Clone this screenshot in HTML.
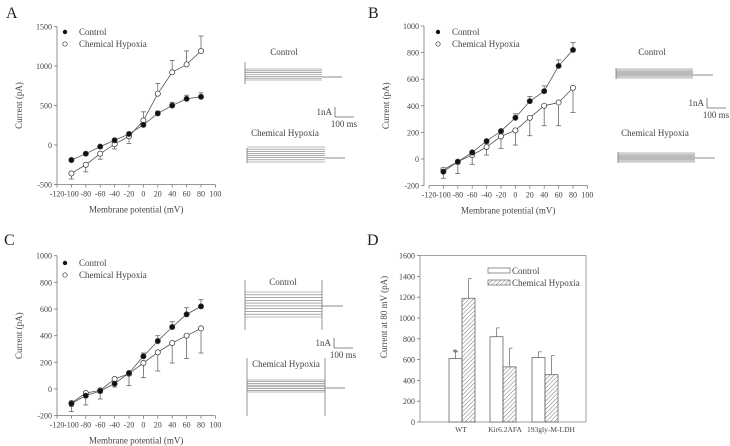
<!DOCTYPE html>
<html><head><meta charset="utf-8"><style>
body{margin:0;background:#fff;}
svg{display:block;}
svg text{fill:#444;font-family:"Liberation Serif","DejaVu Serif",serif;}
</style></head><body>
<svg id="fig" width="730" height="446" viewBox="0 0 730 446" xmlns="http://www.w3.org/2000/svg" font-family="Liberation Serif, serif">
<defs><pattern id="hatch" patternUnits="userSpaceOnUse" width="3" height="3" patternTransform="rotate(45)"><line x1="0" y1="0" x2="0" y2="3" stroke="#555" stroke-width="0.8"/></pattern></defs>
</svg>
<script>
const voltages=[-100,-80,-60,-40,-20,0,20,40,60,80];
const xTicks=[-120,-100,-80,-60,-40,-20,0,20,40,60,80,100];
const aControl=[-190,-110,-20,60,140,255,400,500,585,610];
const aControlErr=[-20,-20,-20,-20,-20,30,30,40,45,50];
const aHypoxia=[-360,-250,-110,10,110,310,650,920,1020,1190];
const aHypoxiaErr=[-70,-90,-70,-60,-90,110,130,150,170,190];
const aTicks=[-500,0,500,1000,1500];
const bControl=[-95,-20,50,135,210,310,435,510,700,820];
const bControlErr=[-50,-20,-20,-20,-20,30,35,40,45,55];
const bHypoxia=[-80,-20,30,90,170,215,310,400,425,535];
const bHypoxiaErr=[-20,-90,-70,-60,-90,-110,-135,-150,-175,-185];
const bTicks=[-200,0,200,400,600,800,1000];
const cControl=[-110,-50,-15,40,120,245,360,465,560,620];
const cControlErr=[-20,-70,-60,-25,-20,25,40,40,50,50];
const cHypoxia=[-105,-30,-10,75,115,195,275,345,400,455];
const cHypoxiaErr=[-65,-20,-20,-20,-90,-110,-140,-150,-170,-185];
const cTicks=[-200,0,200,400,600,800,1000];
const dGroups=["WT","Kir6.2AFA","193gly-M-LDH"];
const dControl=[610,820,620];
const dControlErr=[65,85,55];
const dHypoxia=[1190,530,455];
const dHypoxiaErr=[190,180,185];
const dTicks=[0,200,400,600,800,1000,1200,1400,1600];

const svg=document.getElementById('fig');
const NS='http://www.w3.org/2000/svg';
function el(tag,attrs,parent,txt){const e=document.createElementNS(NS,tag);for(const k in attrs)e.setAttribute(k,attrs[k]);if(tag==='text')e.setAttribute('font-family','Liberation Serif, serif');if(txt!==undefined)e.textContent=txt;(parent||svg).appendChild(e);return e;}

function iv(id,o){
  const g=el('g',{});
  
  
  const xs=v=>o.x0+(v+120)*0.72;
  const ys=v=>o.yZero-(v*o.yScale);
  const L=el('text',{x:o.lx,y:o.ly,'font-size':16,style:'fill:#222'},g,id.toUpperCase());
  
  
  const yTop=ys(o.ticks[o.ticks.length-1]), yBot=ys(o.ticks[0]);
  el('line',{x1:o.yAxisX,y1:yTop,x2:o.yAxisX,y2:yBot,stroke:'#777','stroke-width':0.8},g);
  el('line',{x1:xs(-120),y1:yBot,x2:xs(100),y2:yBot,stroke:'#777','stroke-width':0.8},g);
  o.ticks.forEach(t=>{el('line',{x1:o.yAxisX-3,y1:ys(t),x2:o.yAxisX,y2:ys(t),stroke:'#777','stroke-width':0.8},g);
    const tx=el('text',{x:o.yAxisX-5,y:ys(t)+3,'font-size':8,'text-anchor':'end'},g,t);
    });
  xTicks.forEach(t=>{el('line',{x1:xs(t),y1:yBot,x2:xs(t),y2:yBot+3,stroke:'#777','stroke-width':0.8},g);
    const tx=el('text',{x:xs(t),y:yBot+12,'font-size':8,'text-anchor':'middle'},g,t);
    });
  const xt=el('text',{x:xs(-10),y:yBot+28,'font-size':9,'text-anchor':'middle'},g,'Membrane potential (mV)');
  
  const cy=(yTop+yBot)/2;
  const yt=el('text',{x:o.yAxisX-35,y:cy,'font-size':9,'text-anchor':'middle',transform:`rotate(-90 ${o.yAxisX-35} ${cy})`},g,'Current (pA)');
  
  [[o.hyp,o.hypErr,false],[o.ctl,o.ctlErr,true]].forEach(([vals,errs,filled])=>{
    vals.forEach((v,i)=>{const x=xs(voltages[i]),y=ys(v),ye=ys(v+errs[i]);
      el('line',{x1:x,y1:y,x2:x,y2:ye,stroke:'#666','stroke-width':0.8},g);
      el('line',{x1:x-2.5,y1:ye,x2:x+2.5,y2:ye,stroke:'#666','stroke-width':0.8},g);});
    el('polyline',{points:vals.map((v,i)=>xs(voltages[i])+','+ys(v)).join(' '),fill:'none',stroke:'#555','stroke-width':0.8},g);
    vals.forEach((v,i)=>{const c=el('circle',{cx:xs(voltages[i]),cy:ys(v),r:2.6,fill:filled?'#111':'#fff',stroke:'#333','stroke-width':0.7},g);
      });
  });
  el('circle',{cx:o.legX,cy:o.legY,r:2.2,fill:'#111'},g);
  el('circle',{cx:o.legX,cy:o.legY+12,r:2.2,fill:'#fff',stroke:'#333','stroke-width':0.7},g);
  const l1=el('text',{x:o.legX+14,y:o.legY+3,'font-size':9},g,'Control');
  
  const l2=el('text',{x:o.legX+14,y:o.legY+15,'font-size':9},g,'Chemical Hypoxia');
  
}
iv('a',{x0:57,yAxisX:57,yZero:145,yScale:0.079,ticks:aTicks,ctl:aControl,ctlErr:aControlErr,hyp:aHypoxia,hypErr:aHypoxiaErr,lx:6,ly:18,legX:65,legY:32});
iv('b',{x0:429,yAxisX:424,yZero:159,yScale:0.133,ticks:bTicks,ctl:bControl,ctlErr:bControlErr,hyp:bHypoxia,hypErr:bHypoxiaErr,lx:368,ly:18,legX:438,legY:32});
iv('c',{x0:57,yAxisX:57,yZero:389,yScale:0.1333,ticks:cTicks,ctl:cControl,ctlErr:cControlErr,hyp:cHypoxia,hypErr:cHypoxiaErr,lx:4,ly:245,legX:65,legY:263});

function trace(name,x1,x2,yT,yB,n,tailX,tailY,vT,vB,endLine){
  const g=el('g',{});
  
  for(let i=0;i<n;i++){const y=yT+(yB-yT)*i/(n-1);el('line',{x1:x1,y1:y,x2:x2,y2:y,stroke:'#777','stroke-width':0.6},g);}
  el('line',{x1:x2,y1:tailY,x2:tailX,y2:tailY,stroke:'#666','stroke-width':0.7},g);
  el('line',{x1:x1,y1:vT,x2:x1,y2:vB,stroke:'#666','stroke-width':0.7},g);
  if(endLine)el('line',{x1:x2,y1:vT,x2:x2,y2:vB,stroke:'#666','stroke-width':0.7},g);
}
function lbl(name,x,y,t,anchor){const e=el('text',{x:x,y:y,'font-size':9,'text-anchor':anchor||'middle'},svg,t);}
function scale(x,y){el('line',{x1:x,y1:y-10,x2:x,y2:y,stroke:'#666','stroke-width':0.8});el('line',{x1:x,y1:y,x2:x+19,y2:y,stroke:'#666','stroke-width':0.8});
  lbl('scale-current',x-3,y-2,'1nA','end');lbl('scale-time',x+9,y+10,'100 ms');}
lbl('trace-title-control',284,55,'Control');trace('trace-control-a',245,322,69,80,7,342,77,62,84,false);
scale(335,117);
lbl('trace-title-hypoxia',285,136,'Chemical Hypoxia');trace('trace-hypoxia-a',247,325,147,162,8,345,158,148,163,false);
lbl('trace-title-control',652,55,'Control');trace('trace-control-b',616,693,69,78,9,713,75,68,79,false);
scale(707,108);
lbl('trace-title-hypoxia',655,136,'Chemical Hypoxia');trace('trace-hypoxia-b',618,695,153,162,9,715,158,152,163,false);
lbl('trace-title-control',283,285,'Control');trace('trace-control-c',245,322,292,317,10,343,306,280,330,true);
scale(334,348);
lbl('trace-title-hypoxia',286,367,'Chemical Hypoxia');trace('trace-hypoxia-c',247,325,380,392,8,345,388,358,416,true);

(function(){
  const g=el('g',{});
  const L=el('text',{x:367,y:245,'font-size':16,style:'fill:#222'},g,'D');
  const ys=v=>422-v*0.104; const left=420,right=586;
  el('rect',{x:left,y:ys(1600),width:right-left,height:ys(0)-ys(1600),fill:'none',stroke:'#888','stroke-width':0.8},g);
  dTicks.forEach(t=>{el('line',{x1:left-3,y1:ys(t),x2:left,y2:ys(t),stroke:'#777','stroke-width':0.8},g);
    const tx=el('text',{x:left-5,y:ys(t)+3,'font-size':8,'text-anchor':'end'},g,t);});
  const yt=el('text',{x:387,y:317,'font-size':9,'text-anchor':'middle',transform:'rotate(-90 387 317)'},g,'Current at 80 mV (pA)');
  
  const gx=[449,490,532], bw=13;
  const labelX=[461,505,551];
  dGroups.forEach((name,i)=>{
    [[dControl,dControlErr,'#fff',0],[dHypoxia,dHypoxiaErr,'url(#hatch)',bw]].forEach(([v,e,f,off],k)=>{
      const x=gx[i]+off;
      const r=el('rect',{x:x,y:ys(v[i]),width:bw,height:ys(0)-ys(v[i]),fill:f,stroke:'#666','stroke-width':0.8},g);
      
      el('line',{x1:x+bw/2,y1:ys(v[i]),x2:x+bw/2,y2:ys(v[i]+e[i]),stroke:'#777','stroke-width':0.8},g);
      el('line',{x1:x+bw/2,y1:ys(v[i]+e[i]),x2:x+bw/2+3,y2:ys(v[i]+e[i]),stroke:'#777','stroke-width':0.8},g);
    });
    const tx=el('text',{x:labelX[i],y:432,'font-size':7.5,'text-anchor':'middle'},g,name);
  });
  el('text',{x:455,y:ys(dControl[0]+dControlErr[0])+4,'font-size':10,'text-anchor':'middle'},g,'*');
  el('rect',{x:488,y:268,width:22,height:5,fill:'#fff',stroke:'#666','stroke-width':0.7},g);
  el('rect',{x:488,y:280,width:22,height:5,fill:'url(#hatch)',stroke:'#666','stroke-width':0.7},g);
  const l1=el('text',{x:512,y:274,'font-size':9},g,'Control');
  const l2=el('text',{x:512,y:286,'font-size':9},g,'Chemical Hypoxia');
})();
</script>
</body></html>
